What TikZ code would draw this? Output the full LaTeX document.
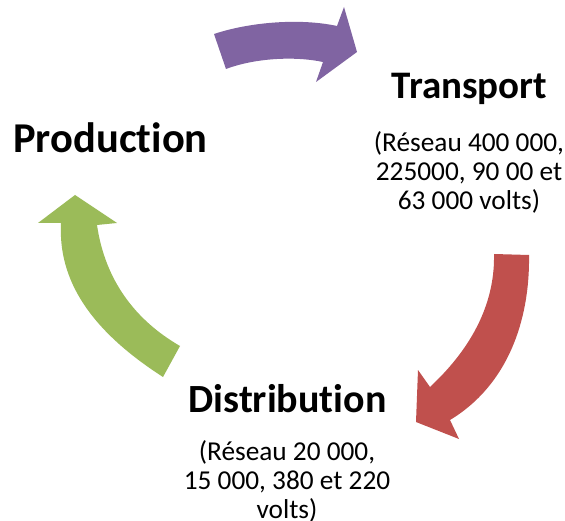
\documentclass[tikz,border=0pt]{standalone}
\usepackage{fontspec}
\setmainfont{Carlito}[Ligatures={NoCommon}]
\definecolor{arrpurple}{RGB}{128,100,162}
\definecolor{arrred}{RGB}{192,80,77}
\definecolor{arrgreen}{RGB}{155,187,89}
\tikzset{
  heading/.style={inner sep=0pt, anchor=base, font=\fontsize{40}{48}\selectfont\bfseries},
  detail/.style={inner sep=0pt, anchor=base, align=center, font=\fontsize{27.3}{29}\selectfont},
}
\begin{document}
\begin{tikzpicture}[x=1pt,y=-1pt]
\fill[white] (0,0) rectangle (565,521);
\useasboundingbox (0,0) rectangle (565,521);
% purple arrow
\fill[arrpurple] (214,34) .. controls (250,22) and (300,18) .. (337,26)
  -- (344,7) -- (357,52) -- (316,82) -- (323,62)
  .. controls (295,56) and (255,58) .. (226,69) -- cycle;
% red arrow
\fill[arrred] (494,254) -- (529,255) .. controls (530,320) and (508,385) .. (450,420)
  -- (459,439) -- (416,422) -- (418,370) -- (430,387)
  .. controls (475,345) and (495,300) .. (494,254) -- cycle;
% green arrow
\fill[arrgreen] (180,346) -- (163,377) .. controls (90,330) and (58,280) .. (61,223)
  -- (38,223) -- (75,195) -- (117,223) -- (97,225)
  .. controls (105,280) and (135,320) .. (180,346) -- cycle;
\node[heading, font=\fontsize{42.5}{48}\selectfont\bfseries] (prod) at (110.5,153) {Production};
\node[heading, font=\fontsize{39}{48}\selectfont\bfseries] (trans) at (469.5,99) {Transport};
\node[detail] (transd) at (469,209.5) {(Réseau 400 000,\\225000, 90 00 et\\63 000 volts)};
\node[heading] (dist) at (287.5,412) {Distribution};
\node[detail] (distd) at (287,518) {(Réseau 20 000,\\15 000, 380 et 220\\volts)};
\end{tikzpicture}
\end{document}
